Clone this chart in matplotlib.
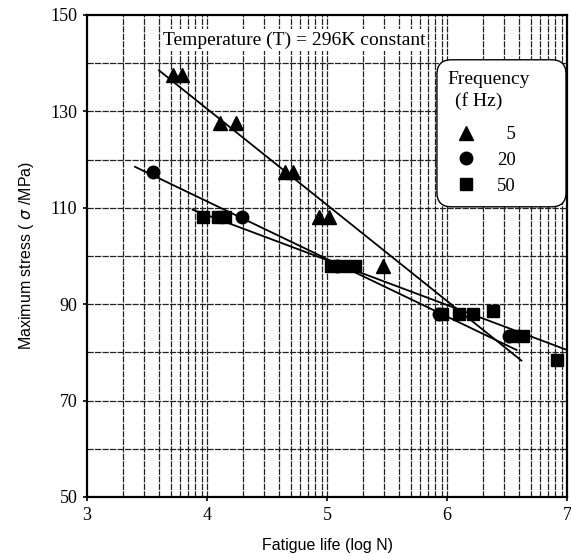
import numpy as np
from matplotlib import pyplot as pl
from matplotlib.lines import Line2D
from matplotlib.patches import FancyBboxPatch

# Data (x = log N, y = max stress in MPa)
tri_x = [3.72, 3.79, 4.11, 4.24, 4.65, 4.72, 4.93, 5.02, 5.47]
tri_y = [137.5, 137.5, 127.5, 127.5, 117.5, 117.5, 108, 108, 98]

circ_x = [3.55, 4.29, 5.08, 5.93, 6.52]
circ_y = [117.5, 108, 98, 88, 83.5]

sq_x = [3.97, 4.09, 4.15, 5.03, 5.13, 5.23, 5.96, 6.10, 6.22, 6.38,
        6.55, 6.63, 6.92]
sq_y = [108, 108, 108, 98, 98, 98, 88, 88, 88, 88.5, 83.5, 83.5, 78.5]

# Fitted lines (end points)
fit5_x = [3.60, 6.62]
fit5_y = [138.5, 78.3]
fit20_x = [3.40, 6.58]
fit20_y = [118.5, 80.5]
fit50_x = [3.88, 7.00]
fit50_y = [109.6, 80.5]

xticks = [3, 4, 5, 6, 7]
yticks = [50, 70, 90, 110, 130, 150]
freq_labels = ['  5', '20', '50']

serif = 'Liberation Serif'
sans = 'Liberation Sans'

fig = pl.figure(figsize=(5.71, 5.54), dpi=100)
ax = fig.add_axes([0.1524, 0.1029, 0.8406, 0.8701])

ax.set_xlim(3, 7)
ax.set_ylim(50, 150)

# Log-style vertical grid inside each decade
gridstyle = dict(color='#222222', linewidth=0.9, linestyle=(0, (5, 1)),
                 zorder=1)
for dec in range(3, 7):
    for k in range(2, 10):
        ax.axvline(dec + np.log10(k), **gridstyle)
    if dec > 3:
        ax.axvline(dec, **gridstyle)
for yv in range(60, 150, 10):
    ax.axhline(yv, **gridstyle)

# Fit lines
for fx, fy in [(fit5_x, fit5_y), (fit20_x, fit20_y), (fit50_x, fit50_y)]:
    ax.plot(fx, fy, color='black', linewidth=1.3, zorder=3)

# Data points
ax.plot(tri_x, tri_y, linestyle='none', marker='^', markersize=10,
        color='black', zorder=4)
ax.plot(circ_x, circ_y, linestyle='none', marker='o', markersize=9,
        color='black', zorder=4)
ax.plot(sq_x, sq_y, linestyle='none', marker='s', markersize=8,
        color='black', zorder=4)

ax.text(4.725, 144.8, 'Temperature (T) = 296K constant', fontfamily=serif,
        fontsize=14, ha='center', va='center', zorder=5,
        bbox=dict(facecolor='white', edgecolor='none', pad=1.5))

# Legend box drawn by hand, entries from ax.legend
box = FancyBboxPatch((0.729, 0.602), 0.269, 0.305,
                     boxstyle='round,pad=0,rounding_size=0.03',
                     transform=ax.transAxes, facecolor='white',
                     edgecolor='black', linewidth=1.0, zorder=6)
ax.add_patch(box)
ax.text(0.75, 0.867, 'Frequency', transform=ax.transAxes, fontfamily=serif,
        fontsize=14, ha='left', va='center', zorder=7)
ax.text(0.767, 0.822, '(f Hz)', transform=ax.transAxes, fontfamily=serif,
        fontsize=14, ha='left', va='center', zorder=7)

handles = [
    Line2D([], [], linestyle='none', marker='^', markersize=10, color='black'),
    Line2D([], [], linestyle='none', marker='o', markersize=9, color='black'),
    Line2D([], [], linestyle='none', marker='s', markersize=8, color='black'),
]
leg = ax.legend(handles, freq_labels, loc='upper left',
                bbox_to_anchor=(0.729, 0.793), borderaxespad=0,
                prop={'family': serif, 'size': 13.5}, frameon=False,
                labelspacing=0.47, handletextpad=0.7, borderpad=0.6,
                handlelength=1.9)
leg.set_zorder(8)

ax.set_xticks(xticks)
ax.set_yticks(yticks)
ax.set_xticklabels([str(v) for v in xticks], fontfamily=serif, fontsize=13)
ax.set_yticklabels([str(v) for v in yticks], fontfamily=serif, fontsize=13)
ax.tick_params(direction='out', length=3, width=1.2, color='black', pad=4)

for side in ['left', 'bottom', 'top', 'right']:
    ax.spines[side].set_linewidth(1.6)
    ax.spines[side].set_color('black')
    ax.spines[side].set_zorder(9)

ax.set_xlabel('Fatigue life (log N)', fontfamily=sans, fontsize=11.5,
              labelpad=10)
ax.set_ylabel('Maximum stress ( $\\sigma$ /MPa)', fontfamily=sans,
              fontsize=11.5, labelpad=10)

fig.savefig('out.png', dpi=100)
